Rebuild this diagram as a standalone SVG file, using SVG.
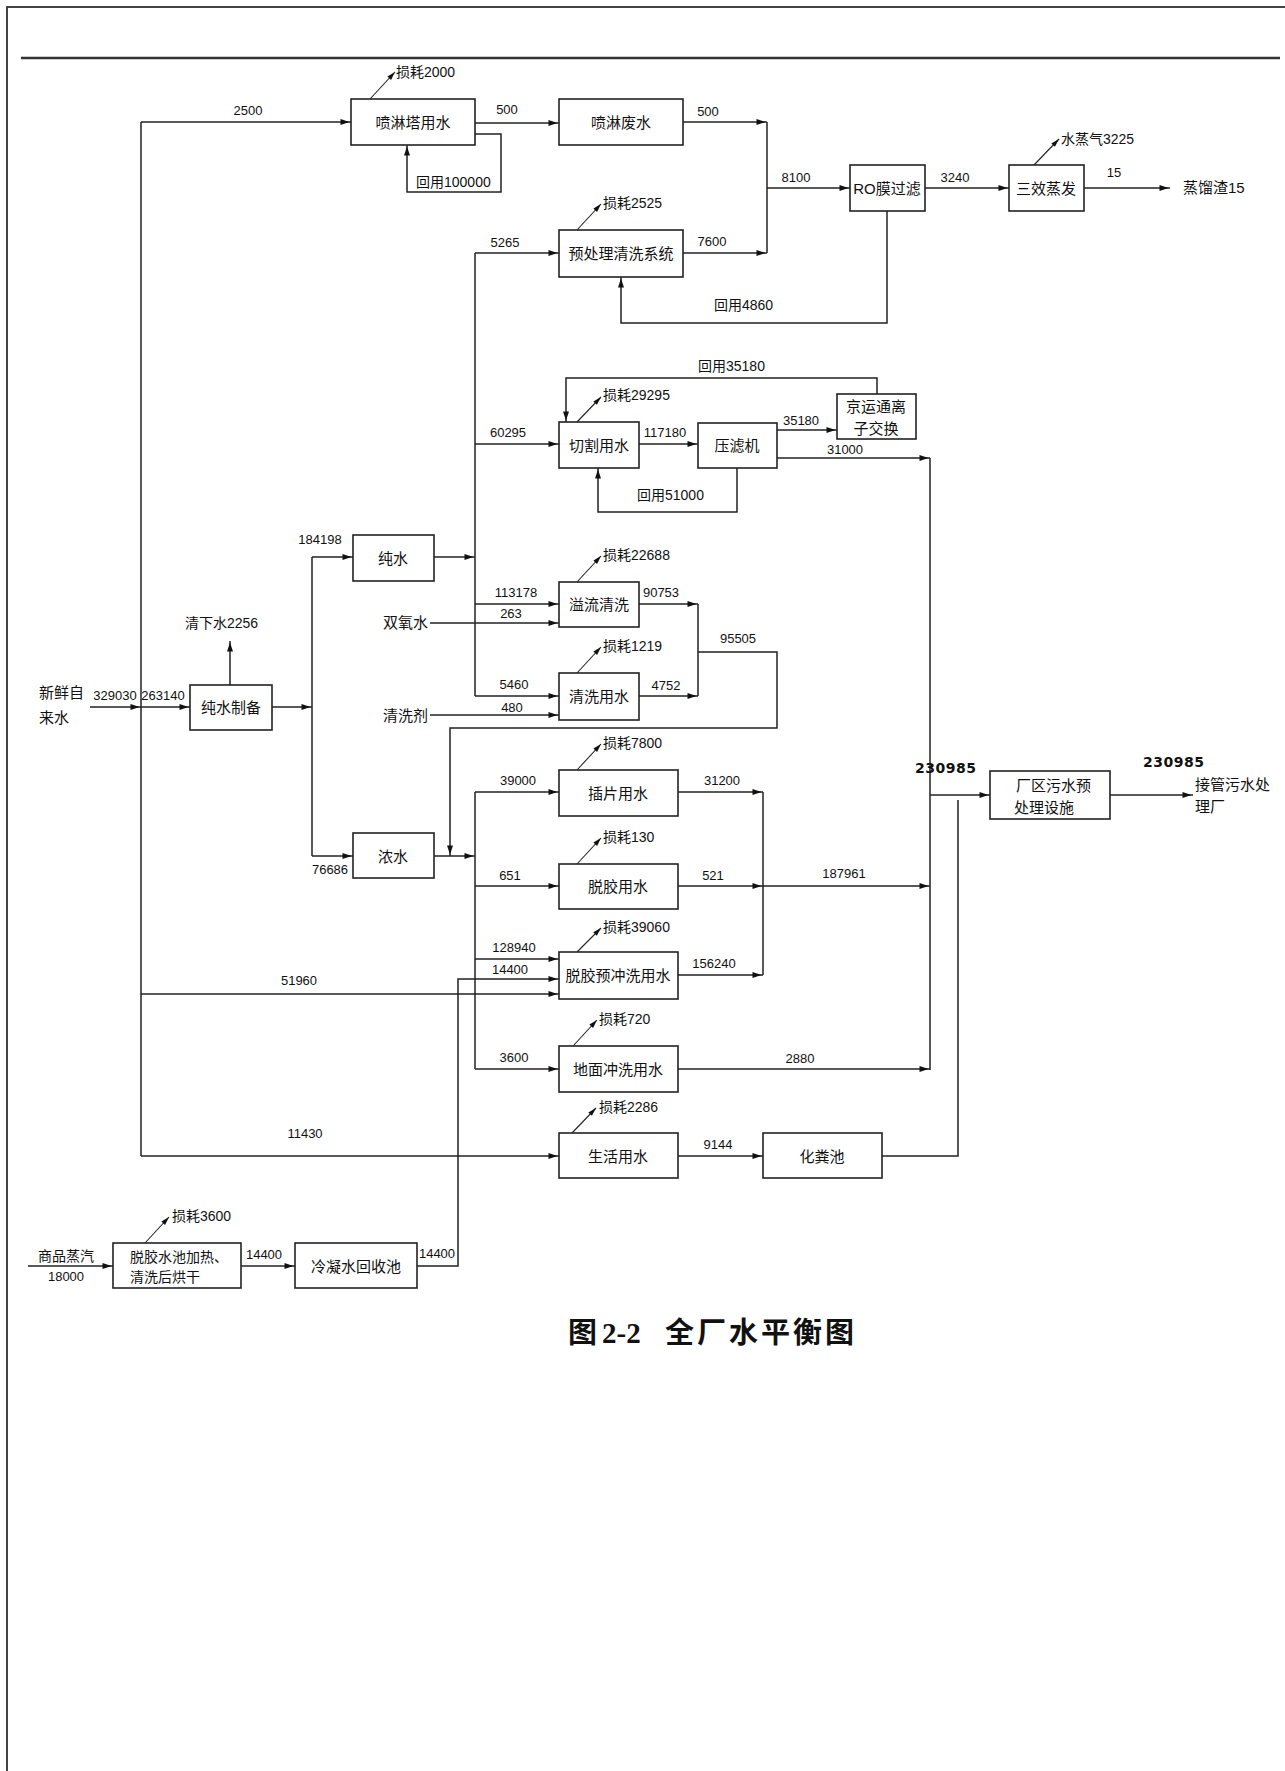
<svg xmlns="http://www.w3.org/2000/svg" width="1285" height="1771" viewBox="0 0 1285 1771">
<style>
.bg{fill:#fff}
.frame{stroke:#444;stroke-width:2;fill:none}
.box{fill:#fff;stroke:#222;stroke-width:1.6}
.c{fill:none;stroke:#222;stroke-width:1.5}
.a{marker-end:url(#ah)}
.la{fill:none;stroke:#222;stroke-width:1.1;marker-end:url(#lh)}
text{font-family:"Liberation Sans","Noto Sans CJK SC",sans-serif;fill:#111}
.n{font-size:13px;text-anchor:middle}
.bx{font-size:15px;text-anchor:middle}
.lbl{font-size:14px}
.big{font-family:"DejaVu Sans",sans-serif;font-weight:bold;font-size:14px;letter-spacing:0.5px}
.title{font-family:"Liberation Serif","Noto Sans CJK SC",serif;font-weight:bold;font-size:29px}
</style>
<defs>
<marker id="ah" markerUnits="userSpaceOnUse" markerWidth="12" markerHeight="8" refX="11" refY="4" orient="auto"><path d="M0.5,1 L9.5,4 L0.5,7 z" fill="#111"/></marker>
<marker id="lh" markerUnits="userSpaceOnUse" markerWidth="12" markerHeight="8" refX="9" refY="4" orient="auto"><path d="M0.5,1.5 L9,4 L0.5,6.5 z" fill="#111"/></marker>
</defs>
<rect class="bg" x="0" y="0" width="1285" height="1771"/>
<g id="page">
<path class="frame" d="M7,1771 V7 H1285"/>
<path d="M21,58 H1280" stroke="#333" stroke-width="2.5"/>
</g>

<g id="connectors">
<path class="c a" d="M90,707 H141"/>
<path class="c a" d="M141,707 H190"/>
<path class="c" d="M141,122 V1156"/>
<path class="c a" d="M141,122 H351"/>
<path class="c a" d="M475,123 H559"/>
<path class="c a" d="M475,134 H501 V192 H407 V145"/>
<path class="c a" d="M683,122 H767"/>
<path class="c a" d="M683,253 H767"/>
<path class="c" d="M767,122 V253"/>
<path class="c a" d="M767,188 H850"/>
<path class="c a" d="M925,188 H1009"/>
<path class="c a" d="M1084,188 H1170"/>
<path class="c a" d="M887,211 V323 H621 V277"/>
<path class="c a" d="M272,707 H312"/>
<path class="c" d="M312,557 V856"/>
<path class="c a" d="M312,557 H353"/>
<path class="c a" d="M312,856 H353"/>
<path class="c a" d="M230,685 V641"/>
<path class="c a" d="M434,557 H475"/>
<path class="c" d="M475,253 V696"/>
<path class="c a" d="M475,253 H559"/>
<path class="c a" d="M475,444 H559"/>
<path class="c a" d="M475,604 H559"/>
<path class="c a" d="M475,696 H559"/>
<path class="c a" d="M430,623 H559"/>
<path class="c a" d="M430,715 H559"/>
<path class="c a" d="M639,444 H698"/>
<path class="c a" d="M777,430 H837"/>
<path class="c a" d="M877,394 V378 H566 V422"/>
<path class="c a" d="M737,468 V512 H598 V468"/>
<path class="c a" d="M777,458 H930"/>
<path class="c a" d="M639,604 H698"/>
<path class="c a" d="M639,696 H698"/>
<path class="c" d="M698,604 V696"/>
<path class="c a" d="M698,652 H777 V728 H450 V856"/>
<path class="c a" d="M434,856 H475"/>
<path class="c" d="M475,792 V1069"/>
<path class="c a" d="M475,792 H559"/>
<path class="c a" d="M475,886 H559"/>
<path class="c a" d="M475,959 H559"/>
<path class="c a" d="M475,1069 H559"/>
<path class="c a" d="M141,994 H559"/>
<path class="c a" d="M417,1266 H458 V979 H559"/>
<path class="c a" d="M678,792 H763"/>
<path class="c a" d="M678,886 H763"/>
<path class="c a" d="M678,975 H763"/>
<path class="c" d="M763,792 V975"/>
<path class="c a" d="M763,886 H930"/>
<path class="c a" d="M678,1069 H930"/>
<path class="c" d="M930,458 V1070"/>
<path class="c a" d="M930,795 H990"/>
<path class="c" d="M882,1156 H958 V800"/>
<path class="c a" d="M141,1156 H559"/>
<path class="c a" d="M678,1156 H763"/>
<path class="c a" d="M1110,795 H1193"/>
<path class="c a" d="M28,1266 H113"/>
<path class="c a" d="M241,1266 H295"/>
<path class="la" d="M370,99 L395,72"/>
<path class="la" d="M577,230 L601,204"/>
<path class="la" d="M1034,165 L1059,139"/>
<path class="la" d="M577,422 L601,397"/>
<path class="la" d="M577,582 L601,556"/>
<path class="la" d="M577,673 L601,647"/>
<path class="la" d="M577,770 L601,744"/>
<path class="la" d="M577,864 L601,838"/>
<path class="la" d="M577,952 L601,928"/>
<path class="la" d="M573,1046 L597,1020"/>
<path class="la" d="M572,1133 L596,1108"/>
<path class="la" d="M145,1243 L169,1217"/>
</g>

<g id="labels">
<text class="n" x="115" y="700">329030</text>
<text class="n" x="163" y="700">263140</text>
<text class="n" x="248" y="115">2500</text>
<text class="n" x="507" y="114">500</text>
<text class="lbl" x="416" y="187">回用100000</text>
<text class="lbl" x="396" y="77">损耗2000</text>
<text class="n" x="708" y="116">500</text>
<text class="n" x="712" y="246">7600</text>
<text class="n" x="796" y="182">8100</text>
<text class="n" x="955" y="182">3240</text>
<text class="n" x="1114" y="177">15</text>
<text class="lbl" x="1061" y="144">水蒸气3225</text>
<text class="lbl" x="714" y="310">回用4860</text>
<text class="lbl" x="603" y="208">损耗2525</text>
<text class="n" x="505" y="247">5265</text>
<text class="n" x="508" y="437">60295</text>
<text class="n" x="516" y="597">113178</text>
<text class="n" x="511" y="618">263</text>
<text class="n" x="514" y="689">5460</text>
<text class="n" x="512" y="712">480</text>
<text class="n" x="665" y="437">117180</text>
<text class="n" x="801" y="425">35180</text>
<text class="lbl" x="698" y="371">回用35180</text>
<text class="lbl" x="637" y="500">回用51000</text>
<text class="n" x="845" y="454">31000</text>
<text class="lbl" x="603" y="400">损耗29295</text>
<text class="n" x="661" y="597">90753</text>
<text class="n" x="666" y="690">4752</text>
<text class="n" x="738" y="643">95505</text>
<text class="lbl" x="603" y="560">损耗22688</text>
<text class="lbl" x="603" y="651">损耗1219</text>
<text class="n" x="320" y="544">184198</text>
<text class="n" x="330" y="874">76686</text>
<text class="n" x="518" y="785">39000</text>
<text class="n" x="510" y="880">651</text>
<text class="n" x="514" y="952">128940</text>
<text class="n" x="510" y="974">14400</text>
<text class="n" x="514" y="1062">3600</text>
<text class="n" x="299" y="985">51960</text>
<text class="n" x="437" y="1258">14400</text>
<text class="n" x="722" y="785">31200</text>
<text class="n" x="713" y="880">521</text>
<text class="n" x="714" y="968">156240</text>
<text class="n" x="844" y="878">187961</text>
<text class="n" x="800" y="1063">2880</text>
<text class="big" x="915" y="773">230985</text>
<text class="big" x="1143" y="767">230985</text>
<text class="n" x="305" y="1138">11430</text>
<text class="n" x="718" y="1149">9144</text>
<text class="n" x="264" y="1259">14400</text>
<text class="n" x="66" y="1281">18000</text>
<text class="lbl" x="603" y="748">损耗7800</text>
<text class="lbl" x="603" y="842">损耗130</text>
<text class="lbl" x="603" y="932">损耗39060</text>
<text class="lbl" x="599" y="1024">损耗720</text>
<text class="lbl" x="599" y="1112">损耗2286</text>
<text class="lbl" x="172" y="1221">损耗3600</text>
</g>

<g id="n-xinxian"><text class="bx" x="39" y="698" style="text-anchor:start">新鲜自</text><text class="bx" x="39" y="723" style="text-anchor:start">来水</text></g>
<g id="n-qingxiashui"><text class="lbl" x="185" y="628">清下水2256</text></g>
<g id="n-shuangyangshui"><text class="bx" x="383" y="628" style="text-anchor:start">双氧水</text></g>
<g id="n-qingxiji"><text class="bx" x="383" y="721" style="text-anchor:start">清洗剂</text></g>
<g id="n-zhengliuzha"><text class="bx" x="1183" y="193" style="text-anchor:start">蒸馏渣15</text></g>
<g id="n-jieguan"><text class="bx" x="1195" y="790" style="text-anchor:start">接管污水处</text><text class="bx" x="1195" y="812" style="text-anchor:start">理厂</text></g>
<g id="n-shangpin"><text class="lbl" x="66" y="1261" text-anchor="middle">商品蒸汽</text></g>

<g id="n-penlinta"><rect class="box" x="351" y="99" width="124" height="46"/><text class="bx" x="413" y="127.5">喷淋塔用水</text></g>
<g id="n-penlinfei"><rect class="box" x="559" y="99" width="124" height="46"/><text class="bx" x="621" y="127.5">喷淋废水</text></g>
<g id="n-yuchuli"><rect class="box" x="559" y="230" width="124" height="47"/><text class="bx" x="621" y="259">预处理清洗系统</text></g>
<g id="n-ro"><rect class="box" x="850" y="165" width="75" height="46"/><text class="bx" x="887" y="193.5">RO膜过滤</text></g>
<g id="n-sanxiao"><rect class="box" x="1009" y="165" width="75" height="46"/><text class="bx" x="1046" y="193.5">三效蒸发</text></g>
<g id="n-jingyuntong"><rect class="box" x="837" y="394" width="79" height="45"/><text class="bx" x="876" y="411.5">京运通离</text><text class="bx" x="876" y="433.5">子交换</text></g>
<g id="n-qiege"><rect class="box" x="559" y="422" width="80" height="46"/><text class="bx" x="599" y="450.5">切割用水</text></g>
<g id="n-yalv"><rect class="box" x="698" y="423" width="79" height="45"/><text class="bx" x="737" y="450.5">压滤机</text></g>
<g id="n-chunshui"><rect class="box" x="353" y="535" width="81" height="46"/><text class="bx" x="393" y="563.5">纯水</text></g>
<g id="n-yiliu"><rect class="box" x="559" y="582" width="80" height="45"/><text class="bx" x="599" y="609.5">溢流清洗</text></g>
<g id="n-qingxi"><rect class="box" x="559" y="673" width="80" height="47"/><text class="bx" x="599" y="701.5">清洗用水</text></g>
<g id="n-chunshuizhibei"><rect class="box" x="190" y="685" width="82" height="45"/><text class="bx" x="231" y="712.5">纯水制备</text></g>
<g id="n-nongshui"><rect class="box" x="353" y="833" width="81" height="45"/><text class="bx" x="393" y="861.5">浓水</text></g>
<g id="n-chapian"><rect class="box" x="559" y="770" width="119" height="46"/><text class="bx" x="618" y="798.5">插片用水</text></g>
<g id="n-tuojiao"><rect class="box" x="559" y="864" width="119" height="45"/><text class="bx" x="618" y="891.5">脱胶用水</text></g>
<g id="n-yuchongxi"><rect class="box" x="559" y="952" width="119" height="47"/><text class="bx" x="618" y="980.5">脱胶预冲洗用水</text></g>
<g id="n-dimian"><rect class="box" x="559" y="1046" width="119" height="46"/><text class="bx" x="618" y="1074.5">地面冲洗用水</text></g>
<g id="n-shenghuo"><rect class="box" x="559" y="1133" width="119" height="45"/><text class="bx" x="618" y="1161.5">生活用水</text></g>
<g id="n-huafenchi"><rect class="box" x="763" y="1133" width="119" height="45"/><text class="bx" x="822" y="1161.5">化粪池</text></g>
<g id="n-changqu"><rect class="box" x="990" y="771" width="120" height="48"/><text class="bx" x="1016" y="790.5" style="text-anchor:start">厂区污水预</text><text class="bx" x="1014" y="812.5" style="text-anchor:start">处理设施</text></g>
<g id="n-tuojiaochi"><rect class="box" x="113" y="1243" width="128" height="45"/><text class="lbl" x="130" y="1262">脱胶水池加热、</text><text class="lbl" x="130" y="1282">清洗后烘干</text></g>
<g id="n-lengning"><rect class="box" x="295" y="1243" width="122" height="45"/><text class="bx" x="356" y="1271.5">冷凝水回收池</text></g>

<g id="title"><text class="title" x="568" y="1343">图<tspan x="602">2-2</tspan><tspan x="665" letter-spacing="3">全厂水平衡图</tspan></text></g>
</svg>
